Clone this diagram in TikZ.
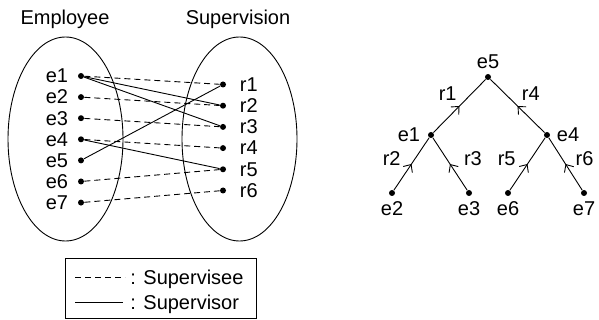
\documentclass[tikz,border=0pt]{standalone}
\usepackage{fontspec}
\setmainfont{Liberation Sans}
\usetikzlibrary{arrows.meta,decorations.markings,positioning,shapes.geometric}

\begin{document}
\begin{tikzpicture}[x=1pt,y=-1pt,line width=0.9pt,
  every node/.style={font=\fontsize{20}{24}\selectfont,inner sep=0pt},
  dot/.style={circle,fill=black,minimum size=6pt,inner sep=0pt},
  set/.style={draw,ellipse,minimum width=115pt,minimum height=204pt},
  supervisee/.style={dash pattern=on 6pt off 4pt},
  supervisor/.style={solid},
  upward/.style={postaction={decorate},
    decoration={markings,mark=at position 0.5 with
      {\arrow{Straight Barb[length=6pt,width=11pt]}}}}]
\useasboundingbox (0,0) rectangle (599,320);
% the two sets
\node[anchor=base] (emp) at (65,25) {Employee};
\node[anchor=base] (sup) at (238,25) {Supervision};
\node[set] (empset) at (65.5,139) {};
\node[set] (supset) at (239.5,139) {};
\foreach \i/\y in {1/76,2/97.1,3/118.2,4/139.3,5/160.4,6/181.5,7/202.6}{
  \node[dot] (e\i) at (81,\y) {};
  \node[left=9pt of e\i] (le\i) {e\i};
}
\foreach \i/\y in {1/84.5,2/105.7,3/126.9,4/148.1,5/169.3,6/190.5}{
  \node[dot] (r\i) at (223,\y) {};
  \node[right=13pt of r\i] (lr\i) {r\i};
}
% who is supervised in which role
\foreach \a/\b in {1/1,2/2,3/3,4/4,6/5,7/6}
  \draw[supervisee] (e\a) -- (r\b);
% who supervises in which role
\foreach \a/\b in {1/2,1/3,5/1,4/5}
  \draw[supervisor] (e\a) -- (r\b);
% key
\node[draw,minimum width=191pt,minimum height=60pt] (key) at (160.5,288) {};
\node[anchor=base west] (keysee) at (130,284) {: Supervisee};
\node[anchor=base west] (keysor) at (130,309) {: Supervisor};
\draw[supervisee] ([xshift=-55pt,yshift=7pt]keysee.base west) -- ([xshift=-5pt,yshift=7pt]keysee.base west);
\draw[supervisor] ([xshift=-55pt,yshift=7pt]keysor.base west) -- ([xshift=-7pt,yshift=7pt]keysor.base west);

% the supervision tree
\node[dot] (te5) at (488,77) {};
\node[dot] (te1) at (431,135) {};
\node[dot] (te4) at (547,135) {};
\node[dot] (te2) at (392,193) {};
\node[dot] (te3) at (469,193) {};
\node[dot] (te6) at (508,193) {};
\node[dot] (te7) at (584,193) {};
\node[above=4pt of te5] {e5};
\node[left=7pt of te1] {e1};
\node[right=6pt of te4] {e4};
\foreach \i in {2,3,6,7}
  \node[below=5pt of te\i] {e\i};
\draw[upward] (te1) -- node[pos=0.74,left=15pt] {r1} (te5);
\draw[upward] (te4) -- node[pos=0.74,right=17pt] {r4} (te5);
\draw[upward] (te2) -- node[pos=0.6,left=14pt] {r2} (te1);
\draw[upward] (te3) -- node[pos=0.6,right=17pt] {r3} (te1);
\draw[upward] (te6) -- node[pos=0.6,left=15pt] {r5} (te4);
\draw[upward] (te7) -- node[pos=0.6,right=13pt] {r6} (te4);
\end{tikzpicture}
\end{document}
